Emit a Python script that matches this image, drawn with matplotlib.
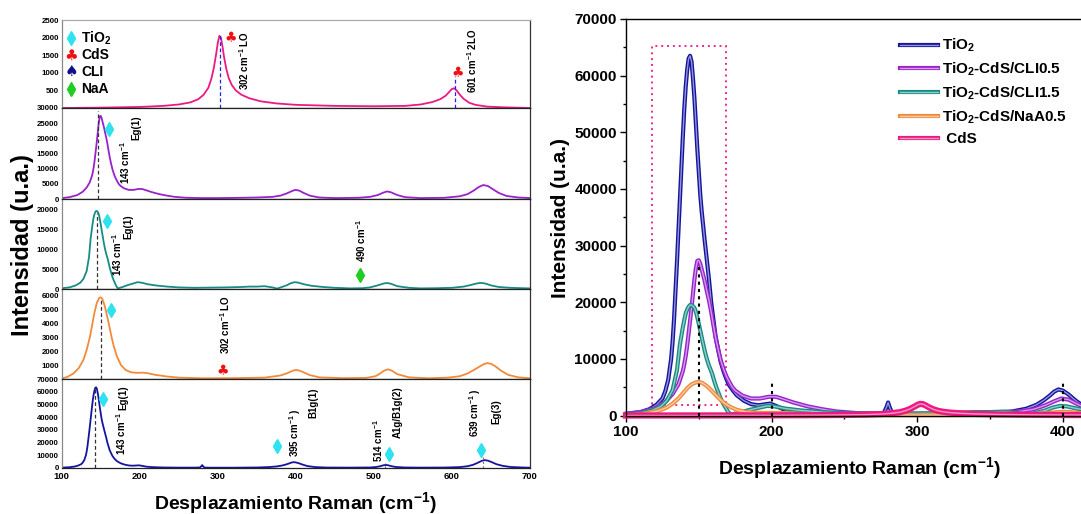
import matplotlib
matplotlib.use('Agg')
import matplotlib.pyplot as plt
from matplotlib.lines import Line2D
from matplotlib.patches import Rectangle
from matplotlib.colors import to_rgb

plt.rcParams['font.family'] = ['Liberation Sans', 'DejaVu Sans']
plt.rcParams['font.weight'] = 'bold'
plt.rcParams['mathtext.fontset'] = 'custom'
plt.rcParams['mathtext.rm'] = 'Liberation Sans:bold'
plt.rcParams['mathtext.it'] = 'Liberation Sans:italic:bold'
plt.rcParams['mathtext.bf'] = 'Liberation Sans:bold'
plt.rcParams['mathtext.sf'] = 'Liberation Sans:bold'

# spectra (Raman shift cm-1, intensity a.u.)
x_tio2 = [100,110,116,121,125,127,129,131,132,133,135,136,137,138,139,140,141,142,143,144,
          145,146,147,148,149,150,151,152,154,155.5,157,158.5,160,161.5,163,165,167,169,171,173.5,
          176,181,186,191,196,199,203,208,215,230,250,270,277,279,280,281,283,
          290,320,350,365,375,382,387,391,394,397,400,404,409,415,425,440,470,495,503,508,
          512,515,518,522,528,540,560,590,610,620,627,632,636,639,642,646,651,657,665,675,
          690,700]
y_tio2 = [300,600,1100,1900,3000,4300,6300,10000,13000,17000,27000,32500,38000,43500,49000,54000,58000,61000,63000,63500,
          62500,59500,56000,51500,47000,43000,39000,36000,31000,27500,24000,20000,17000,14000,12000,9500,7800,6400,5300,4400,
          3600,2600,2000,1800,2000,2100,1700,1100,700,400,300,300,400,1500,2300,1500,300,
          250,250,400,700,1200,1900,2700,3500,4200,4600,4400,3700,2600,1500,700,350,300,400,800,1400,
          2100,2400,2200,1500,800,400,300,350,700,1400,2500,3800,5000,5800,6200,5800,4600,3000,1700,800,
          400,250]

x_cli05 = [100,110,120,127,132,136,139,140,141,142,143,144,145,146,147,148,149,150,151,152,
           153,154,155.5,157,158.5,160,161.5,163,165,167,169,171,173,175,
           180,186,192,198,203,208,215,225,235,245,260,280,300,330,350,370,380,388,394,
           399,404,410,418,430,450,480,495,505,512,517,522,530,540,560,590,610,620,628,634,
           640,646,652,660,670,685,700]
y_cli05 = [300,600,1300,2400,3800,5500,7800,9000,10500,12300,14500,16700,19000,21500,24000,26000,27300,27400,26800,25800,
           24800,23800,22000,20300,18300,16000,13800,12000,9800,8200,6900,5900,5000,4400,
           3500,3000,3000,3300,3300,2900,2300,1600,1100,700,400,300,300,400,500,700,1100,1800,2500,
           3000,2800,2000,1100,500,300,400,700,1300,2100,2500,2200,1300,600,300,400,900,1600,2800,3900,
           4600,4300,3300,2000,1000,500,300]

x_cli15 = [100,110,118,124,128,132,135,136,137,138,139,140,141,142,143,144,145,146,147,148,
           149,150,151,152,154,155.5,157,159,160.5,162,163.5,165,
           167,170,172,178,185,192,197,202,210,220,235,250,270,290,310,330,340,350,360,370,
           376,382,388,393,398,403,410,420,435,450,470,485,495,503,508,513,517,522,530,545,
           560,580,600,615,624,630,635,639,644,650,660,675,690,700]
y_cli15 = [200,400,900,1600,2600,4500,8000,10200,12500,14000,15500,16800,18000,18700,19200,19500,19500,19300,19000,18300,
           17300,16200,15000,13800,11500,10000,8800,7500,6200,5000,4000,3000,
           2000,700,150,500,1000,1400,1700,1600,1200,900,600,400,300,350,400,500,600,600,700,400,
           100,500,900,1400,1700,1600,1200,800,500,300,150,200,400,800,1100,1400,1500,1300,700,300,
           150,200,300,600,1000,1300,1500,1500,1300,900,500,300,200,150]

x_naa = [100,107,115,122,128,132,136,139,142,145,148,150,152,155,158,161,164,167,171,176,
         182,188,194,199,204,210,220,235,250,280,320,360,380,388,393,397,401,405,410,418,
         430,460,490,502,508,513,518,523,530,545,570,595,610,620,628,634,640,645,650,656,
         663,672,685,700]
y_naa = [50,140,400,800,1400,2100,3000,3900,4800,5500,5850,5900,5800,5300,4600,3800,3000,2300,1600,1000,
         650,500,450,450,460,420,300,180,100,50,60,100,250,400,520,620,650,600,480,280,
         120,60,80,200,400,600,700,600,350,120,50,100,200,400,650,850,1050,1150,1100,900,
         600,300,120,50]

x_cds = [100,150,200,230,250,265,275,282,288,292,295,298,300,302,304,306,308,311,314,318,
         323,330,340,355,375,400,450,500,540,560,575,585,592,597,600,603,606,610,615,622,
         630,645,665,700]
y_cds = [0,10,30,60,100,160,250,380,580,850,1150,1550,1850,2050,2000,1750,1450,1100,850,650,
         500,380,280,190,130,90,60,50,60,100,170,250,350,470,540,560,500,380,260,150,
         90,40,20,0]

labels = ['TiO$_2$', 'TiO$_2$-CdS/CLI0.5', 'TiO$_2$-CdS/CLI1.5', 'TiO$_2$-CdS/NaA0.5', ' CdS']
colors = ['#1414A0', '#9922CC', '#178C84', '#F28A3A', '#EC1A80']
xs = [x_tio2, x_cli05, x_cli15, x_naa, x_cds]
ys = [y_tio2, y_cli05, y_cli15, y_naa, y_cds]

# left stack: top to bottom CdS, CLI0.5, CLI1.5, NaA0.5, TiO2
stack_order = [4, 1, 2, 3, 0]
stack_ylim = [2500, 30000, 22500, 6500, 70000]
stack_ticks = [[500, 1000, 1500, 2000, 2500],
               [0, 5000, 10000, 15000, 20000, 25000, 30000],
               [0, 5000, 10000, 15000, 20000],
               [1000, 2000, 3000, 4000, 5000, 6000],
               [0, 10000, 20000, 30000, 40000, 50000, 60000, 70000]]
x_ticks_left = [100, 200, 300, 400, 500, 600, 700]

W, H = 1081, 514
fig = plt.figure(figsize=(W / 100, H / 100), dpi=100)


def fx(px):
    return px / W


def fy(py):
    return 1 - py / H


def light(c, f=0.55):
    r, g, b = to_rgb(c)
    return (r + (1 - r) * f, g + (1 - g) * f, b + (1 - b) * f)


bounds = [20, 108, 199, 289, 379, 468]
xl0, xl1 = 61.7, 530
axs = []
for i, k in enumerate(stack_order):
    ax = fig.add_axes([fx(xl0), fy(bounds[i + 1]), fx(xl1 - xl0), (bounds[i + 1] - bounds[i]) / H])
    ax.plot(xs[k], ys[k], color=colors[k], lw=1.3, solid_joinstyle='round')
    ax.set_xlim(100, 700)
    ax.set_ylim(0, stack_ylim[i])
    ax.set_yticks(stack_ticks[i])
    ax.set_xticks(x_ticks_left)
    ax.tick_params(axis='y', length=0, labelsize=5.7, pad=2)
    ax.tick_params(axis='x', length=0, labelsize=6.8, pad=3)
    if i < 4:
        ax.tick_params(axis='x', labelbottom=False)
    ax.spines['left'].set_color('#888888')
    ax.spines['right'].set_color('#333333')
    ax.spines['bottom'].set_color('#222222')
    ax.spines['top'].set_color('#aaaaaa' if i == 0 else '#222222')
    for s in ax.spines.values():
        s.set_linewidth(0.9)
    axs.append(ax)


def vtext(ax, x, y, s):
    ax.text(x, y, s, rotation=90, ha='center', va='bottom', fontsize=7, fontweight='bold')


def dia(ax, x, y, c='#2EE2F0'):
    ax.plot([x], [y], marker='d', ms=7, color=c, mec=c, ls='none')


def club(ax, x, y):
    ax.text(x, y, '\u2663', color='#EE1111', fontsize=10, ha='center', va='center',
            family='DejaVu Sans')


# panel 1: CdS
a = axs[0]
a.plot([303, 303], [0, 2100], color='#2222EE', ls=(0, (3, 2)), lw=0.9)
a.plot([604, 604], [0, 900], color='#2222EE', ls=(0, (3, 2)), lw=0.9)
club(a, 316, 1990)
club(a, 607, 1000)
vtext(a, 334, 510, '302 cm$^{-1}$ LO')
vtext(a, 626, 420, '601 cm$^{-1}$ 2LO')
leg_items = [('TiO$_2$', 'd', '#2EE2F0'), ('CdS', '\u2663', '#EE1111'),
             ('CLI', '\u2660', '#10108A'), ('NaA', 'd', '#22CC22')]
for j, (name, sym, c) in enumerate(leg_items):
    py = 38 + 17 * j
    if sym == 'd':
        a.plot([fx(71)], [fy(py)], marker='d', ms=7, color=c, ls='none',
               transform=fig.transFigure, clip_on=False)
    else:
        fig.text(fx(71), fy(py), sym, color=c, fontsize=11, ha='center', va='center',
                 family='DejaVu Sans')
    fig.text(fx(81), fy(py), name, fontsize=10, fontweight='bold', ha='left', va='center')

# panel 2: CLI0.5
a = axs[1]
a.plot([147, 147], [0, 29000], color='#333333', ls=(0, (3, 2)), lw=0.9)
dia(a, 161, 23200)
vtext(a, 181, 5100, '143 cm$^{-1}$')
vtext(a, 196, 19300, 'Eg(1)')

# panel 3: CLI1.5
a = axs[2]
a.plot([145, 145], [0, 19000], color='#333333', ls=(0, (3, 2)), lw=0.9)
dia(a, 158.5, 16960)
vtext(a, 171, 3300, '143 cm$^{-1}$')
vtext(a, 185, 12600, 'Eg(1)')
dia(a, 482, 3470, '#22CC22')
vtext(a, 484, 6660, '490 cm$^{-1}$')

# panel 4: NaA0.5
a = axs[3]
a.plot([150, 150], [0, 5800], color='#333333', ls=(0, (3, 2)), lw=0.9)
dia(a, 163, 4990)
club(a, 306, 530)
vtext(a, 309, 1800, '302 cm$^{-1}$ LO')

# panel 5: TiO2
a = axs[4]
a.plot([143, 143], [0, 62000], color='#333333', ls=(0, (3, 2)), lw=0.9)
a.plot([514, 514], [0, 4000], color='#777777', ls=(0, (2, 2)), lw=0.8)
a.plot([640, 640], [0, 10000], color='#777777', ls=(0, (2, 2)), lw=0.8)
dia(a, 153.5, 54500)
vtext(a, 176, 10300, '143 cm$^{-1}$')
vtext(a, 179, 45800, 'Eg(1)')
dia(a, 375.5, 17400)
vtext(a, 399, 8900, '395 cm$^{-1}$ )')
vtext(a, 422, 39200, 'B1g(1)')
vtext(a, 505.5, 5000, '514 cm$^{-1}$')
dia(a, 519.5, 11000)
vtext(a, 530.5, 23300, 'A1g/B1g(2)')
vtext(a, 630, 24700, '639 cm$^{-1}$ )')
dia(a, 637.5, 14200)
vtext(a, 657, 35000, 'Eg(3)')

fig.text(fx(22.5), fy(245), 'Intensidad (u.a.)', rotation=90, ha='center', va='center',
         fontsize=17, fontweight='bold')
fig.text(fx(295), fy(503), 'Desplazamiento Raman (cm$^{-1}$)', ha='center', va='center',
         fontsize=14, fontweight='bold')

# right: overlaid spectra
y0, y70 = 415.5, 19
axr = fig.add_axes([fx(626), fy(y0), fx(W - 626), (y0 - y70) / H])
axr.set_xlim(100, 100 + (W - 626) / 1.456)
axr.set_ylim(0, 70000)
handles = []
for k in range(5):
    lw = 4.5 if k == 4 else 3.0
    axr.plot(xs[k], ys[k], color=colors[k], lw=lw, clip_on=False, solid_joinstyle='round')
    axr.plot(xs[k], ys[k], color=light(colors[k]), lw=1.0, clip_on=False, solid_joinstyle='round')
    handles.append((Line2D([], [], color=colors[k], lw=3.0),
                    Line2D([], [], color=light(colors[k]), lw=1.0)))
axr.add_patch(Rectangle((118, 1900), 51, 63400, fill=False, ec='#F0288C',
                        ls=(0, (1, 2)), lw=1.4))
axr.plot([150, 150], [0, 27000], color='k', ls=(0, (1.5, 2)), lw=1.5)
axr.plot([200, 200], [0, 6300], color='k', ls=(0, (1.5, 2)), lw=1.5)
axr.plot([400, 400], [0, 6300], color='k', ls=(0, (1.5, 2)), lw=1.5)

axr.set_xticks([100, 200, 300, 400])
axr.set_xticks([150, 250, 350], minor=True)
axr.set_yticks(range(0, 70001, 10000))
axr.set_yticks(range(5000, 70000, 10000), minor=True)
axr.tick_params(which='major', direction='out', length=4.5, width=1, labelsize=11, pad=2)
axr.tick_params(which='minor', direction='out', length=2.5, width=1)
axr.spines['right'].set_visible(False)
for s in axr.spines.values():
    s.set_linewidth(1.0)

fig.legend(handles, labels, loc='upper left', bbox_to_anchor=(fx(900), fy(37)),
           bbox_transform=fig.transFigure, frameon=False, fontsize=11,
           handlelength=2.5, handletextpad=0.25, labelspacing=0.42,
           borderpad=0, borderaxespad=0)

fig.text(fx(560), fy(218), 'Intensidad (u.a.)', rotation=90, ha='center', va='center',
         fontsize=15, fontweight='bold')
fig.text(fx(859), fy(468), 'Desplazamiento Raman (cm$^{-1}$)', ha='center', va='center',
         fontsize=14, fontweight='bold')

fig.savefig('out.png', dpi=100)
